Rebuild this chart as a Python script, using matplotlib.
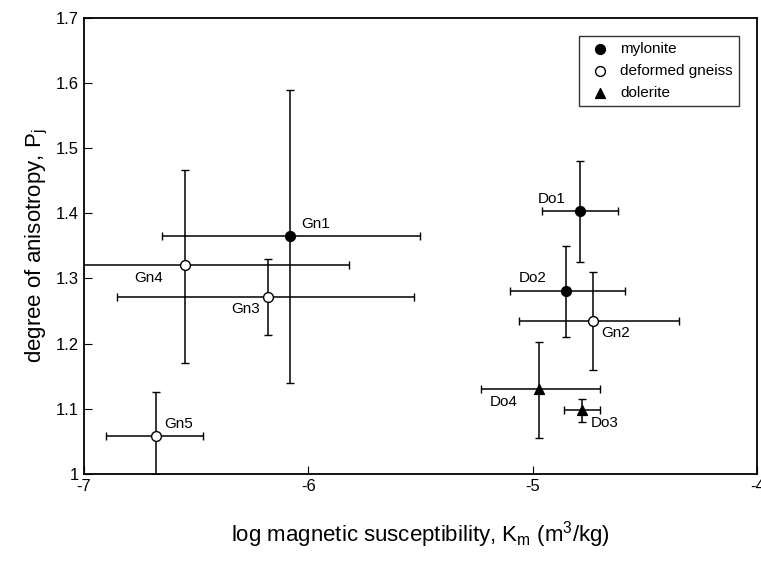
import matplotlib.pyplot as plt
import numpy as np

names = ['Gn1', 'Gn2', 'Gn3', 'Gn4', 'Gn5', 'Do1', 'Do2', 'Do3', 'Do4']
kind = ['myl', 'gn', 'gn', 'gn', 'gn', 'myl', 'myl', 'dol', 'dol']
x = np.array([-6.08, -4.73, -6.18, -6.55, -6.68, -4.79, -4.85, -4.78, -4.97])
y = np.array([1.365, 1.235, 1.272, 1.32, 1.058, 1.403, 1.281, 1.098, 1.13])
x_lo = np.array([-6.65, -5.06, -6.85, -7.3, -6.9, -4.96, -5.10, -4.86, -5.23])
x_hi = np.array([-5.50, -4.35, -5.53, -5.82, -6.47, -4.62, -4.59, -4.70, -4.70])
y_lo = np.array([1.14, 1.16, 1.213, 1.17, 1.0, 1.325, 1.21, 1.08, 1.055])
y_hi = np.array([1.59, 1.31, 1.33, 1.467, 1.125, 1.48, 1.35, 1.115, 1.203])
label_off = [(8, 6), (6, -12), (-26, -12), (-36, -12), (6, 6), (-30, 6), (-34, 6), (6, -12), (-36, -12)]

plt.rcParams['font.family'] = ['Liberation Sans', 'DejaVu Sans']
fig, ax = plt.subplots(figsize=(7.61, 5.64), dpi=100)
fig.subplots_adjust(left=0.11, right=0.995, top=0.968, bottom=0.16)

ax.errorbar(x, y, xerr=[x - x_lo, x_hi - x], yerr=[y - y_lo, y_hi - y],
            fmt='none', ecolor='black', elinewidth=1.1, capsize=3, zorder=1)
styles = {'myl': ('o', 'black', 'mylonite'),
          'gn': ('o', 'white', 'deformed gneiss'),
          'dol': ('^', 'black', 'dolerite')}
for k, (m, fc, lab) in styles.items():
    idx = [i for i, kk in enumerate(kind) if kk == k]
    ax.scatter(x[idx], y[idx], marker=m, s=50, facecolor=fc, edgecolor='black',
               linewidth=1, zorder=3, label=lab)
for n, xi, yi, off in zip(names, x, y, label_off):
    ax.annotate(n, (xi, yi), xytext=off, textcoords='offset points', fontsize=11)

ax.set_xlim(-7, -4)
ax.set_ylim(1, 1.7)
ax.set_xticks([-7, -6, -5, -4])
ax.set_xticklabels(['-7', '-6', '-5', '-4'])
ax.set_yticks(np.arange(1, 1.71, 0.1))
ax.set_yticklabels(['1', '1.1', '1.2', '1.3', '1.4', '1.5', '1.6', '1.7'])
ax.tick_params(direction='in', labelsize=12, length=6)
for s in ax.spines.values():
    s.set_linewidth(1.3)
ax.set_xlabel('log magnetic susceptibility, K$_\\mathregular{m}$ (m$^\\mathregular{3}$/kg)',
              fontsize=16, labelpad=18)
ax.set_ylabel('degree of anisotropy, P$_\\mathregular{j}$', fontsize=16)
ax.legend(loc='upper right', fontsize=11, frameon=True, fancybox=False,
          edgecolor='black', handletextpad=0.3, borderaxespad=1.2)
fig.savefig('out.png')
